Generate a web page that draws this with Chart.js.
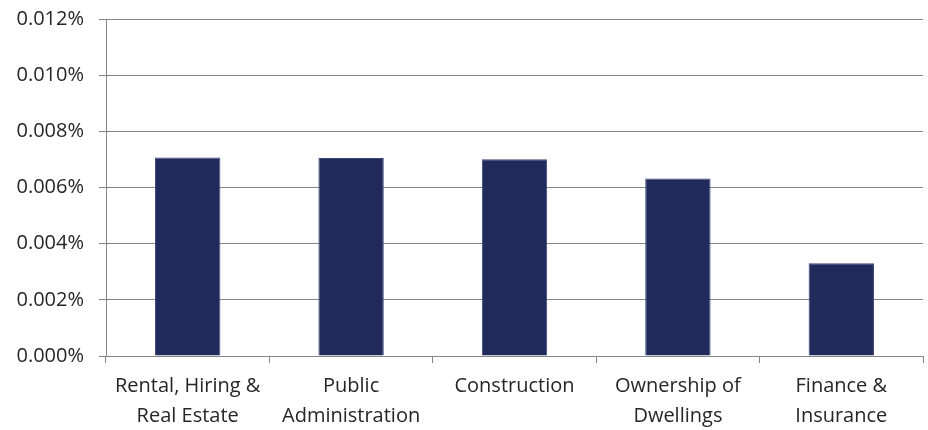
<!DOCTYPE html>
<html>
<head>
<meta charset="utf-8">
<script src="https://cdn.jsdelivr.net/npm/chart.js@4"></script>
<style>
  html, body { margin: 0; padding: 0; background: #ffffff; }
  #wrap { width: 928px; height: 430px; }
</style>
</head>
<body>
<div id="wrap"><canvas id="barChart" width="928" height="430"></canvas></div>
<script>
// Chart data
const categories = [
    ['Rental, Hiring &', 'Real Estate'],
    ['Public', 'Administration'],
    'Construction',
    ['Ownership of', 'Dwellings'],
    ['Finance &', 'Insurance']
];
const shares = [0.00707, 0.00705, 0.00701, 0.00632, 0.00330];
const yMin = 0;
const yMax = 0.012;
const yStep = 0.002;

const gridColor = '#868686';
const textColor = '#262626';
const fontFamily = "'Open Sans', 'Liberation Sans', sans-serif";

// Function to create the bar chart
function createShareChart() {
    const ctx = document.getElementById('barChart').getContext('2d');
    new Chart(ctx, {
        type: 'bar',
        data: {
            labels: categories,
            datasets: [{
                data: shares,
                backgroundColor: '#202A5B',
                borderColor: '#3B4473',
                borderWidth: 1,
                categoryPercentage: 1,
                barPercentage: 0.4
            }]
        },
        options: {
            responsive: false,
            animation: false,
            layout: {
                padding: { left: 0, right: 5, top: 19, bottom: 0 }
            },
            plugins: {
                legend: { display: false },
                tooltip: { enabled: false }
            },
            scales: {
                x: {
                    grid: {
                        display: true,
                        drawOnChartArea: false,
                        drawTicks: true,
                        tickLength: 7,
                        color: gridColor,
                        offset: true
                    },
                    border: { color: gridColor, width: 1 },
                    ticks: {
                        color: textColor,
                        padding: 8,
                        maxRotation: 0,
                        autoSkip: false,
                        font: { family: fontFamily, size: 20, lineHeight: 1.5 }
                    },
                    afterFit: scale => {
                        scale.height = 74;
                        scale.paddingLeft = 0;
                        scale.paddingRight = 0;
                    }
                },
                y: {
                    min: yMin,
                    max: yMax,
                    grid: {
                        color: gridColor,
                        lineWidth: 1,
                        tickLength: 7
                    },
                    border: { color: gridColor, width: 1 },
                    ticks: {
                        stepSize: yStep,
                        color: textColor,
                        padding: 15,
                        font: { family: fontFamily, size: 20 },
                        callback: v => v.toFixed(3) + '%'
                    },
                    afterFit: scale => {
                        scale.width = 106;
                        scale.paddingTop = 0;
                        scale.paddingBottom = 0;
                    }
                }
            }
        }
    });
}

createShareChart();
</script>
</body>
</html>
